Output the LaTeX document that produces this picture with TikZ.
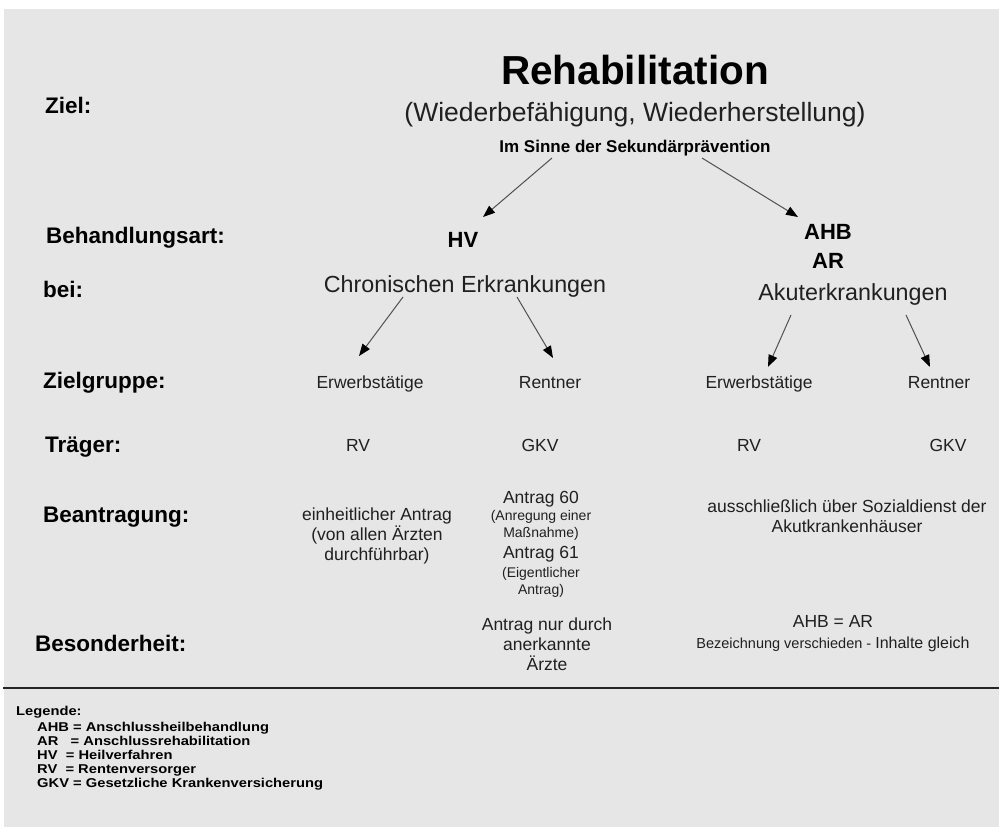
\documentclass[tikz,border=0pt]{standalone}
\usepackage{fontspec}
\setmainfont{Liberation Sans}
\usetikzlibrary{arrows.meta}

\definecolor{bggray}{HTML}{E6E6E6}
\definecolor{txtgray}{HTML}{202020}
\definecolor{linegray}{HTML}{505050}
\newcommand{\legline}[1]{\scalebox{1.15}[1]{#1}}

\begin{document}
\begin{tikzpicture}[x=1pt, y=-1pt,
    rowlabel/.style={anchor=base west, inner sep=0pt, font=\fontsize{22.5}{27}\selectfont\bfseries},
    head/.style={anchor=base, inner sep=0pt, font=\fontsize{22}{27}\selectfont\bfseries},
    case/.style={anchor=base, inner sep=0pt, text=txtgray, font=\fontsize{23.3}{28}\selectfont},
    entry/.style={anchor=base, inner sep=0pt, text=txtgray, font=\fontsize{17.5}{20}\selectfont},
    block/.style={anchor=north, inner sep=0pt, align=center, text=txtgray, font=\fontsize{17.5}{20.3}\selectfont},
    note/.style={anchor=north, inner sep=0pt, align=center, text=txtgray, font=\fontsize{14}{16.8}\selectfont},
    legend/.style={anchor=base west, inner sep=0pt, font=\fontsize{12.8}{14}\selectfont\bfseries},
    arr/.style={draw=linegray, line width=1pt, -{Triangle[length=12pt,width=9pt,color=black]}}]

  % Background
  \useasboundingbox (0,0) rectangle (999,827);
  \fill[bggray] (4,9) rectangle (999,827);

  % Row labels
  \node[rowlabel] (ziel) at (45,113) {Ziel:};
  \node[rowlabel] (art) at (46,243) {Behandlungsart:};
  \node[rowlabel] (bei) at (43,297) {bei:};
  \node[rowlabel] (gruppe) at (43,388) {Zielgruppe:};
  \node[rowlabel] (traeger) at (45,452) {Träger:};
  \node[rowlabel] (antrag) at (43,522) {Beantragung:};
  \node[rowlabel] (besonders) at (35,651) {Besonderheit:};

  % Title and goal
  \node[anchor=base, inner sep=0pt, font=\fontsize{40.5}{48}\selectfont\bfseries] (title) at (635,84) {Rehabilitation};
  \node[anchor=base, inner sep=0pt, text=txtgray, font=\fontsize{26.5}{32}\selectfont] (goal) at (635,121) {(Wiederbefähigung, Wiederherstellung)};
  \node[anchor=base, inner sep=0pt, font=\fontsize{17}{20}\selectfont\bfseries] (sinne) at (635,152) {Im Sinne der Sekundärprävention};

  % Treatment types
  \node[head] (hv) at (463,247) {HV};
  \node[head] (ahb) at (828,239) {AHB};
  \node[head] (ar) at (828,268) {AR};
  \node[case] (chron) at (465,292) {Chronischen Erkrankungen};
  \node[case] (akut) at (853,300) {Akuterkrankungen};

  % Target groups
  \node[entry] (erwA) at (370,388) {Erwerbstätige};
  \node[entry] (rentA) at (550,388) {Rentner};
  \node[entry] (erwB) at (759,388) {Erwerbstätige};
  \node[entry] (rentB) at (939,388) {Rentner};

  % Carriers
  \node[entry] (rvA) at (358,451) {RV};
  \node[entry] (gkvA) at (540,451) {GKV};
  \node[entry] (rvB) at (749,451) {RV};
  \node[entry] (gkvB) at (948,451) {GKV};

  % Application
  \node[block] (einheit) at (377,507.5) {einheitlicher Antrag\\(von allen Ärzten\\durchführbar)};
  \node[entry] (antrag60) at (541,503) {Antrag 60};
  \node[note] (anregung) at (541,510) {(Anregung einer\\Maßnahme)};
  \node[entry] (antrag61) at (541,558) {Antrag 61};
  \node[note] (eigentl) at (541,567) {(Eigentlicher\\Antrag)};
  \node[block] (sozial) at (847,499.5) {ausschließlich über Sozialdienst der\\Akutkrankenhäuser};

  % Special features
  \node[block] (nurarzt) at (547,617.5) {Antrag nur durch\\anerkannte\\Ärzte};
  \node[entry] (gleich) at (833,627) {AHB = AR};
  \node[anchor=base, inner sep=0pt, text=txtgray] (bezeichnung) at (833,648)
    {{\fontsize{14.5}{17}\selectfont Bezeichnung verschieden - }{\fontsize{16}{19}\selectfont Inhalte gleich}};

  % Arrows
  \draw[arr] ([xshift=-83pt,yshift=-6pt]sinne.base) -- ([xshift=20pt,yshift=30pt]hv.base);
  \draw[arr] ([xshift=67pt,yshift=-6pt]sinne.base) -- ([xshift=-30pt,yshift=22pt]ahb.base);
  \draw[arr] ([xshift=-62pt,yshift=-5pt]chron.base) -- ([xshift=-11pt,yshift=32pt]erwA.base);
  \draw[arr] ([xshift=52pt,yshift=-5pt]chron.base) -- ([xshift=3pt,yshift=30pt]rentA.base);
  \draw[arr] ([xshift=-62pt,yshift=-15pt]akut.base) -- ([xshift=9pt,yshift=21pt]erwB.base);
  \draw[arr] ([xshift=53pt,yshift=-15pt]akut.base) -- ([xshift=-9pt,yshift=21pt]rentB.base);

  % Separator
  \draw[line width=1.5pt, color=black!85] (3,688) -- (999,688);

  % Legend
  \node[legend] (leg) at (16,715) {\legline{Legende:}};
  \node[legend] (legahb) at (37,731) {\legline{AHB = Anschlussheilbehandlung}};
  \node[legend] (legar) at (37,745) {\legline{AR\ \ \ = Anschlussrehabilitation}};
  \node[legend] (leghv) at (37,759) {\legline{HV\ \ = Heilverfahren}};
  \node[legend] (legrv) at (37,773) {\legline{RV\ \ = Rentenversorger}};
  \node[legend] (leggkv) at (37,787) {\legline{GKV = Gesetzliche Krankenversicherung}};
\end{tikzpicture}
\end{document}
